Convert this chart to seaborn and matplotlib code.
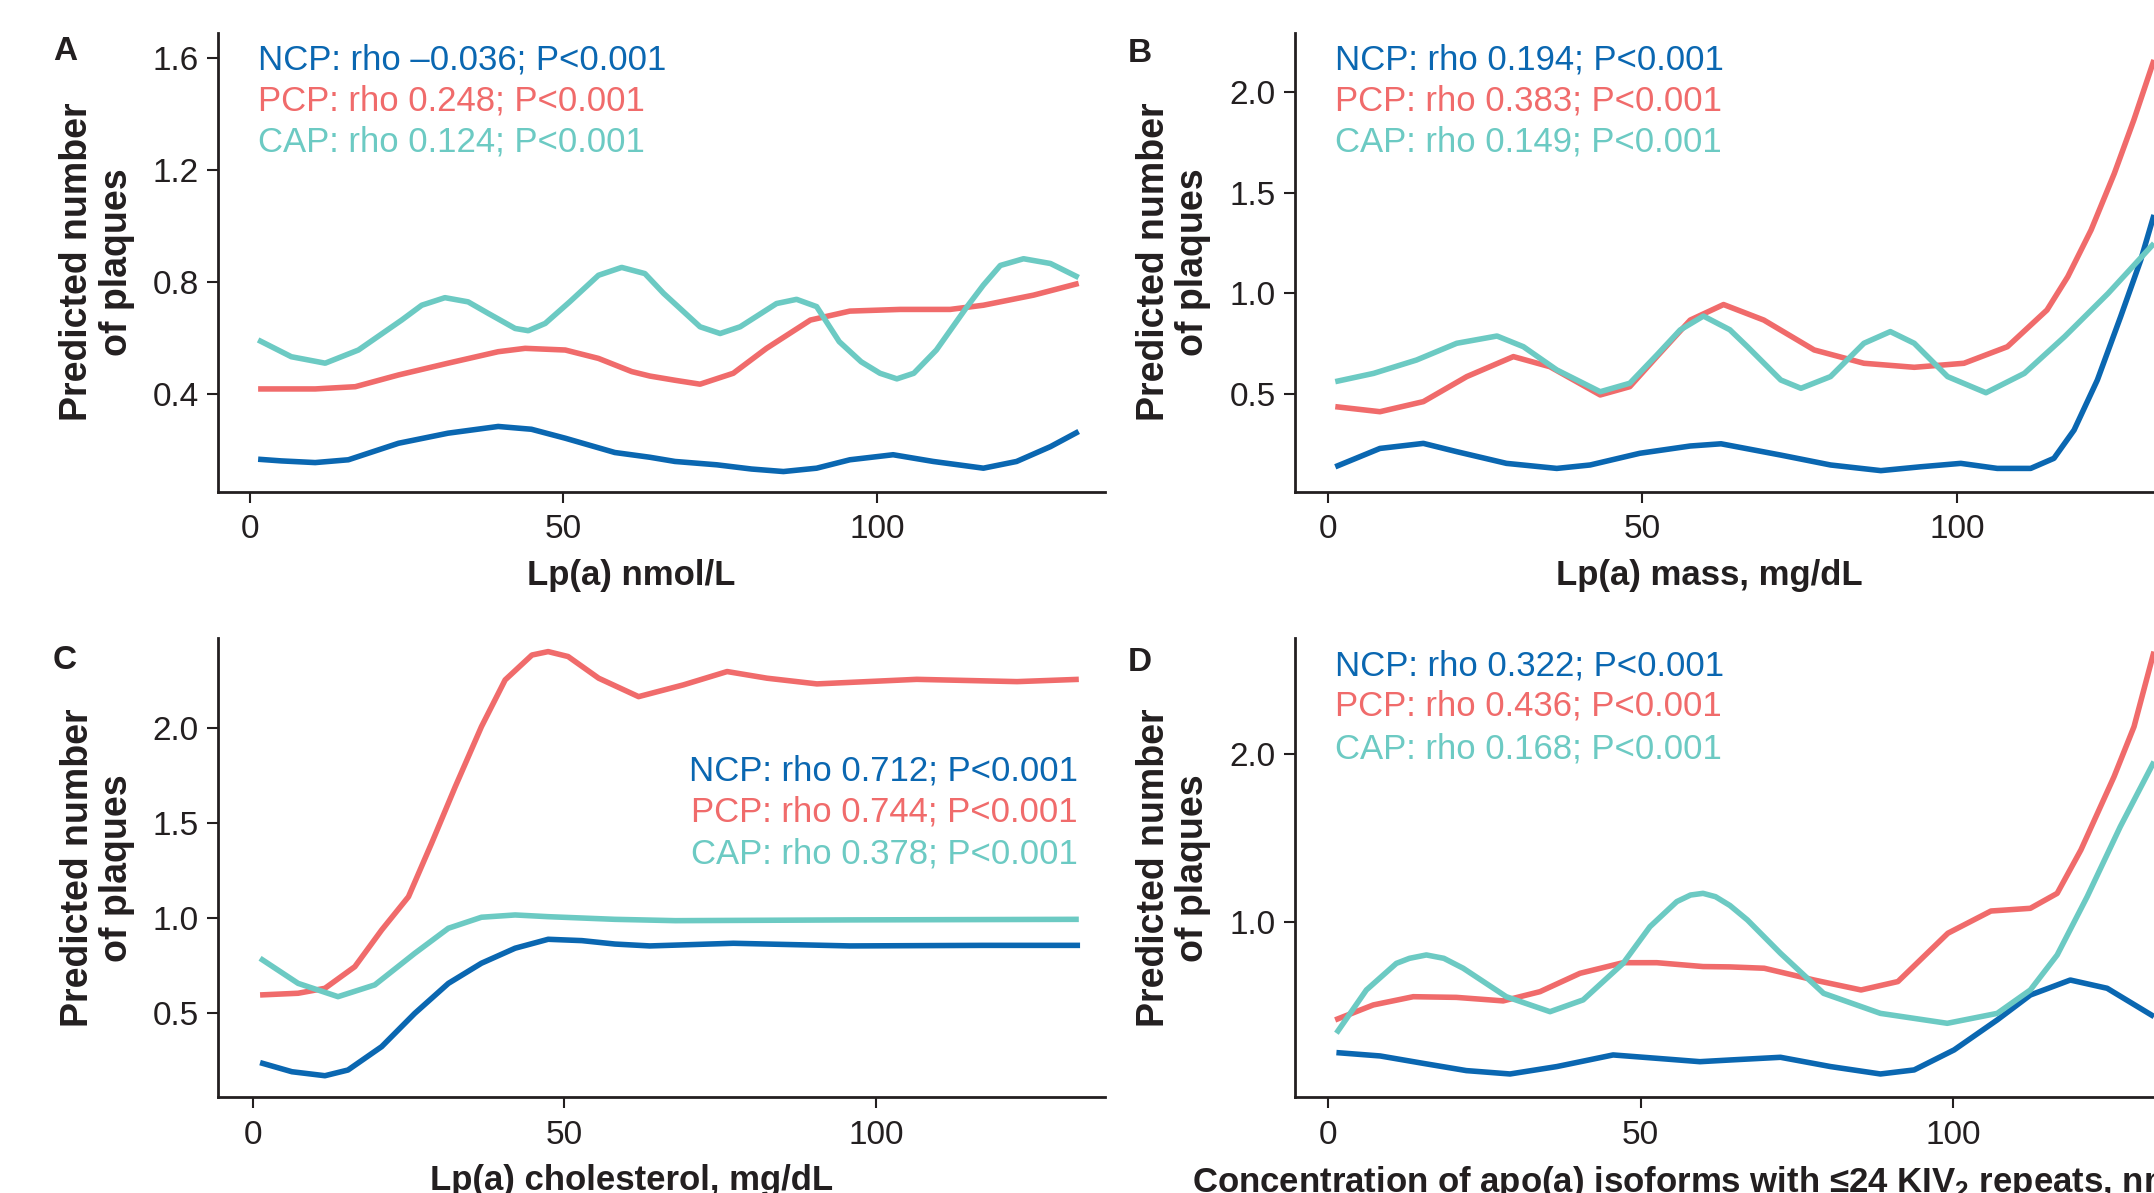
import matplotlib
matplotlib.use("Agg")
import matplotlib.pyplot as plt
import seaborn as sns
import pandas as pd

# ---------------- data ----------------
SERIES = ["NCP", "PCP", "CAP"]
COLORS = {"NCP": "#0a67b1", "PCP": "#f06b6b", "CAP": "#6ccac3"}

# Panel A: Lp(a) nmol/L
A_ncp_x = [1.3, 5, 10.4, 15.7, 23.7, 31.6, 39.6, 44.9, 50.3, 58.2, 63.8, 67.8, 74.5, 80, 85.1, 90.4, 95.7, 102.6, 109, 117, 122.3, 127.7, 132.2]
A_ncp_y = [0.168, 0.162, 0.156, 0.166, 0.225, 0.261, 0.285, 0.275, 0.243, 0.192, 0.175, 0.16, 0.148, 0.133, 0.124, 0.136, 0.166, 0.184, 0.16, 0.136, 0.16, 0.213, 0.267]
A_pcp_x = [1.3, 10.4, 16.8, 23.7, 31.6, 39.6, 43.9, 50.3, 55.6, 60.9, 63.8, 67.8, 71.8, 77.1, 82.4, 89.4, 95.7, 103.7, 111.7, 117, 125, 132.2]
A_pcp_y = [0.419, 0.419, 0.427, 0.469, 0.511, 0.552, 0.564, 0.558, 0.528, 0.481, 0.465, 0.45, 0.436, 0.475, 0.564, 0.665, 0.697, 0.703, 0.703, 0.718, 0.754, 0.796]
A_cap_x = [1.3, 6.6, 12, 17.3, 24.2, 27.4, 31.1, 34.8, 38, 42.3, 44.4, 47.1, 51, 55.6, 59.3, 63, 66, 71.8, 75, 78.2, 84, 87.2, 90.4, 94, 97.5, 100.5, 103.2, 105.9, 109.5, 114.4, 117, 119.7, 123.4, 127.7, 132.2]
A_cap_y = [0.594, 0.534, 0.511, 0.558, 0.665, 0.718, 0.745, 0.730, 0.689, 0.635, 0.627, 0.653, 0.730, 0.825, 0.853, 0.831, 0.76, 0.641, 0.617, 0.641, 0.724, 0.739, 0.713, 0.588, 0.516, 0.475, 0.455, 0.475, 0.558, 0.713, 0.79, 0.86, 0.884, 0.867, 0.817]

# Panel B: Lp(a) mass, mg/dL
B_ncp_x = [1.2, 8.3, 15.2, 20.5, 28.4, 36.4, 41.7, 49.6, 57.6, 62.5, 72, 79.9, 87.9, 94.2, 100.6, 106.4, 111.7, 115.4, 118.6, 122.3, 126, 129.2, 131.3]
B_ncp_y = [0.141, 0.232, 0.257, 0.216, 0.158, 0.133, 0.15, 0.208, 0.244, 0.255, 0.199, 0.15, 0.122, 0.141, 0.158, 0.133, 0.133, 0.183, 0.323, 0.571, 0.885, 1.166, 1.389]
B_pcp_x = [1.2, 8.3, 15.2, 22.1, 29.5, 35.3, 43.3, 48, 52.3, 57.6, 62.9, 69.3, 77.3, 85.2, 93.2, 101.1, 108, 114.3, 117.6, 121.3, 125, 128.1, 131.3]
B_pcp_y = [0.439, 0.414, 0.464, 0.588, 0.687, 0.637, 0.497, 0.538, 0.687, 0.868, 0.945, 0.868, 0.72, 0.654, 0.634, 0.654, 0.736, 0.918, 1.083, 1.314, 1.595, 1.86, 2.157]
B_cap_x = [1.2, 7.3, 14.1, 20.5, 26.9, 31.1, 36.4, 43.3, 48, 52.3, 56, 59.7, 63.9, 66.7, 72, 75.2, 79.9, 85.2, 89.4, 93.2, 98.5, 104.6, 110.7, 117.1, 124, 131.3]
B_cap_y = [0.563, 0.604, 0.67, 0.753, 0.789, 0.736, 0.621, 0.513, 0.555, 0.695, 0.819, 0.888, 0.82, 0.736, 0.571, 0.53, 0.588, 0.753, 0.811, 0.753, 0.588, 0.508, 0.604, 0.786, 1.0, 1.248]

# Panel C: Lp(a) cholesterol, mg/dL
C_ncp_x = [1.2, 6.3, 11.6, 15.3, 20.7, 26, 31.4, 36.7, 42.1, 47.4, 52.8, 58.1, 63.7, 77.1, 95.8, 117.2, 132.7]
C_ncp_y = [0.237, 0.189, 0.168, 0.198, 0.321, 0.496, 0.654, 0.76, 0.839, 0.886, 0.879, 0.861, 0.851, 0.865, 0.851, 0.854, 0.854]
C_pcp_x = [1.2, 7.3, 11.6, 16.4, 20.7, 25, 28.7, 32.5, 36.7, 40.5, 44.8, 47.4, 50.6, 55.5, 61.9, 69.1, 76.1, 82.5, 90.5, 106.5, 122.6, 132.5]
C_pcp_y = [0.593, 0.602, 0.628, 0.742, 0.935, 1.11, 1.391, 1.689, 2.005, 2.251, 2.382, 2.4, 2.374, 2.26, 2.163, 2.225, 2.295, 2.26, 2.23, 2.254, 2.242, 2.254]
C_cap_x = [1.2, 7.3, 13.7, 19.6, 26, 31.4, 36.7, 42.1, 47.4, 58.1, 67.8, 95.8, 132.5]
C_cap_y = [0.786, 0.654, 0.584, 0.646, 0.812, 0.944, 1.002, 1.014, 1.005, 0.991, 0.984, 0.988, 0.991]

# Panel D: apo(a) isoforms with <=24 KIV2 repeats, nmol/L
D_ncp_x = [1.3, 8.3, 15.2, 22.1, 29.1, 36.6, 45.6, 52.6, 59.5, 64.3, 72.4, 80.4, 88.4, 93.8, 100.2, 107.1, 112.4, 118.8, 124.7, 132.2]
D_ncp_y = [0.226, 0.206, 0.162, 0.119, 0.099, 0.143, 0.212, 0.192, 0.172, 0.182, 0.198, 0.143, 0.099, 0.123, 0.242, 0.42, 0.568, 0.657, 0.608, 0.44]
D_pcp_x = [1.1, 7.2, 13.6, 20.5, 28, 33.9, 40.3, 47.2, 52.6, 60, 64.3, 69.8, 77.8, 85.3, 91.2, 99.2, 106.1, 112.4, 116.7, 120.5, 125.8, 129, 132.2]
D_pcp_y = [0.42, 0.509, 0.558, 0.554, 0.533, 0.588, 0.697, 0.76, 0.76, 0.737, 0.735, 0.727, 0.657, 0.598, 0.648, 0.935, 1.067, 1.083, 1.172, 1.43, 1.865, 2.162, 2.608]
D_cap_x = [1.3, 6.1, 10.9, 13, 15.7, 18.5, 21.6, 28.5, 35.5, 40.8, 47.2, 51.5, 55.8, 58, 60, 62, 64.3, 67.1, 72.4, 79.3, 88.4, 99.1, 107.1, 112.4, 116.7, 121.5, 126.8, 132.2]
D_cap_y = [0.341, 0.598, 0.756, 0.786, 0.806, 0.786, 0.727, 0.558, 0.469, 0.539, 0.756, 0.974, 1.123, 1.162, 1.172, 1.152, 1.10, 1.014, 0.816, 0.578, 0.459, 0.4, 0.459, 0.598, 0.806, 1.152, 1.568, 1.954]

# annotation texts
A_notes = ["NCP: rho \u20130.036; P<0.001", "PCP: rho 0.248; P<0.001", "CAP: rho 0.124; P<0.001"]
B_notes = ["NCP: rho 0.194; P<0.001", "PCP: rho 0.383; P<0.001", "CAP: rho 0.149; P<0.001"]
C_notes = ["NCP: rho 0.712; P<0.001", "PCP: rho 0.744; P<0.001", "CAP: rho 0.378; P<0.001"]
D_notes = ["NCP: rho 0.322; P<0.001", "PCP: rho 0.436; P<0.001", "CAP: rho 0.168; P<0.001"]

X_TICKS = [0, 50, 100]
A_yticks = [0.4, 0.8, 1.2, 1.6]
B_yticks = [0.5, 1.0, 1.5, 2.0]
C_yticks = [0.5, 1.0, 1.5, 2.0]
D_yticks = [1.0, 2.0]

A_xlabel = "Lp(a) nmol/L"
B_xlabel = "Lp(a) mass, mg/dL"
C_xlabel = "Lp(a) cholesterol, mg/dL"
D_xlabel = "Concentration of apo(a) isoforms with \u226424 KIV$_\\mathbf{2}$ repeats, nmol/L"
Y_LABEL = "Predicted number\nof plaques"

# ---------------- styling ----------------
sns.set_theme(style="ticks")
plt.rcParams["font.family"] = ["Liberation Sans", "DejaVu Sans"]
plt.rcParams["mathtext.fontset"] = "custom"
plt.rcParams["mathtext.rm"] = "Liberation Sans"
plt.rcParams["mathtext.bf"] = "Liberation Sans:bold"
INK = "#231f20"

W, H = 2154, 1193
fig = plt.figure(figsize=(W / 100, H / 100), dpi=100)


def px_rect(left, top, right, bottom):
    return [left / W, 1 - bottom / H, (right - left) / W, (bottom - top) / H]


panels = [
    dict(rect=px_rect(218, 32.5, 1105, 491.7), xlim=(-5.1, 136.4), ylim=(0.052, 1.692), yticks=A_yticks,
         data=[(A_ncp_x, A_ncp_y), (A_pcp_x, A_pcp_y), (A_cap_x, A_cap_y)], notes=A_notes,
         note_pos=(257.5, [69.3, 110.5, 151.7]), note_ha="left", xlabel=A_xlabel, xl=(0.4656, "center"),
         letter="A", letter_pos=(53, 36), ylab_x=-0.1364),
    dict(rect=px_rect(1295, 32.5, 2154, 491.7), xlim=(-5.2, 131.3), ylim=(0.0176, 2.293), yticks=B_yticks,
         data=[(B_ncp_x, B_ncp_y), (B_pcp_x, B_pcp_y), (B_cap_x, B_cap_y)], notes=B_notes,
         note_pos=(1335, [69.3, 110.5, 151.7]), note_ha="left", xlabel=B_xlabel, xl=(0.482, "center"),
         letter="B", letter_pos=(1128, 38), ylab_x=-0.1414),
    dict(rect=px_rect(218.3, 638.3, 1105, 1097.3), xlim=(-5.5, 136.7), ylim=(0.0544, 2.47), yticks=C_yticks,
         data=[(C_ncp_x, C_ncp_y), (C_pcp_x, C_pcp_y), (C_cap_x, C_cap_y)], notes=C_notes,
         note_pos=(1077.7, [780.7, 821.7, 863.3]), note_ha="right", xlabel=C_xlabel, xl=(0.4656, "center"),
         letter="C", letter_pos=(53, 645), ylab_x=-0.1364),
    dict(rect=px_rect(1295, 638.3, 2154, 1097.3), xlim=(-5.33, 132.2), ylim=(-0.0396, 2.687), yticks=D_yticks,
         data=[(D_ncp_x, D_ncp_y), (D_pcp_x, D_pcp_y), (D_cap_x, D_cap_y)], notes=D_notes,
         note_pos=(1335, [675, 716, 758.3]), note_ha="left", xlabel=D_xlabel, xl=(-0.1194, "left"),
         letter="D", letter_pos=(1128, 647), ylab_x=-0.1414),
]

for p in panels:
    ax = fig.add_axes(p["rect"])
    frames = []
    for name, (xs, ys) in zip(SERIES, p["data"]):
        frames.append(pd.DataFrame({"x": xs, "y": ys, "series": name}))
    df = pd.concat(frames, ignore_index=True)
    sns.lineplot(data=df, x="x", y="y", hue="series", palette=COLORS, hue_order=["NCP", "PCP", "CAP"],
                 estimator=None, sort=False, legend=False, linewidth=4.0, ax=ax,
                 solid_joinstyle="round", solid_capstyle="butt")
    ax.set_xlim(*p["xlim"])
    ax.set_ylim(*p["ylim"])
    ax.set_xticks(X_TICKS)
    ax.set_xticklabels([str(t) for t in X_TICKS])
    ax.set_yticks(p["yticks"])
    ax.set_yticklabels([f"{t:.1f}" for t in p["yticks"]])
    for s in ["top", "right"]:
        ax.spines[s].set_visible(False)
    for s in ["left", "bottom"]:
        ax.spines[s].set_linewidth(2.0)
        ax.spines[s].set_color(INK)
    ax.tick_params(axis="both", direction="out", length=8, width=1.5, color=INK,
                   labelcolor=INK, labelsize=24)
    ax.tick_params(axis="y", pad=6)
    ax.tick_params(axis="x", pad=8)
    ax.set_facecolor("white")

    ax.set_ylabel(Y_LABEL, fontsize=27, fontweight="bold", color=INK, linespacing=1.12)
    ax.yaxis.set_label_coords(p["ylab_x"], 0.5)
    ax.yaxis.label.set_verticalalignment("center")

    ax.set_xlabel(p["xlabel"], fontsize=25, fontweight="bold", color=INK)
    ax.xaxis.set_label_coords(p["xl"][0], -0.146)
    ax.xaxis.label.set_horizontalalignment(p["xl"][1])
    ax.xaxis.label.set_verticalalignment("top")

    nx, nys = p["note_pos"]
    for name, txt, ny in zip(SERIES, p["notes"], nys):
        fig.text(nx / W, 1 - ny / H, txt, color=COLORS[name], fontsize=25,
                 ha=p["note_ha"], va="baseline")

    lx, ly = p["letter_pos"]
    fig.text(lx / W, 1 - ly / H, p["letter"], fontsize=24, fontweight="bold", color=INK,
             ha="left", va="top")

fig.savefig("out.png", dpi=100, facecolor="white")
